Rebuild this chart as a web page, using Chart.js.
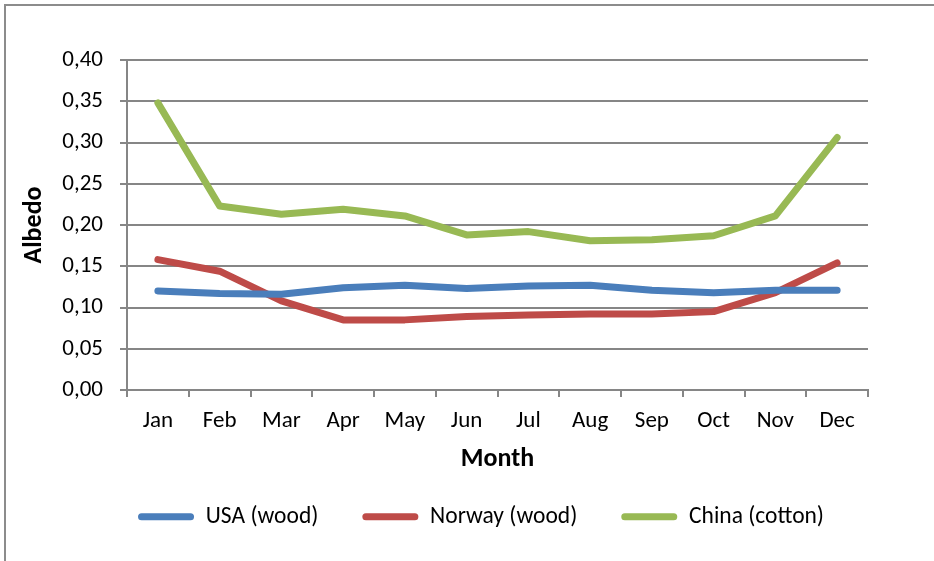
<!DOCTYPE html>
<html lang="en">
<head>
    <meta charset="UTF-8">
    <title>Albedo by month</title>
    <script src="https://cdn.jsdelivr.net/npm/chart.js"></script>
    <style>
        body { margin: 0; background: #fff; overflow: hidden; }
        #wrap { position: relative; width: 934px; height: 561px; }
        #frame { position: absolute; left: 4px; top: 4px; width: 1200px; height: 1200px; border: 2px solid #8c8c8c; }
        canvas { position: absolute; left: 0; top: 0; }
    </style>
</head>
<body>
    <div id="wrap">
        <div id="frame"></div>
        <canvas id="chart" width="934" height="561"></canvas>
    </div>

    <script>
        const months = ['Jan', 'Feb', 'Mar', 'Apr', 'May', 'Jun', 'Jul', 'Aug', 'Sep', 'Oct', 'Nov', 'Dec'];
        const usaWood = [0.120, 0.117, 0.116, 0.124, 0.127, 0.123, 0.126, 0.127, 0.121, 0.118, 0.121, 0.121];
        const norwayWood = [0.158, 0.144, 0.108, 0.085, 0.085, 0.089, 0.091, 0.092, 0.092, 0.095, 0.118, 0.154];
        const chinaCotton = [0.348, 0.223, 0.213, 0.219, 0.211, 0.188, 0.192, 0.181, 0.182, 0.187, 0.211, 0.306];

        const font = 'Carlito, Lato, sans-serif';
        const gridGray = '#868686';

        function series(label, data, color) {
            return { label: label, data: data, borderColor: color, backgroundColor: color,
                     borderWidth: 7, pointRadius: 0, tension: 0, borderCapStyle: 'round', borderJoinStyle: 'round' };
        }

        new Chart(document.getElementById('chart').getContext('2d'), {
            type: 'line',
            data: {
                labels: months,
                datasets: [
                    series('USA (wood)', usaWood, '#4a7ebb'),
                    series('Norway (wood)', norwayWood, '#be4b48'),
                    series('China (cotton)', chinaCotton, '#98b954')
                ]
            },
            options: {
                responsive: false,
                animation: false,
                layout: { padding: { top: 60, right: 66, left: 19, bottom: 22.5 } },
                plugins: {
                    tooltip: { enabled: false },
                    legend: {
                        position: 'bottom',
                        align: 'end',
                        labels: {
                            color: '#000',
                            font: { family: font, size: 23.5 },
                            boxWidth: 56, boxHeight: 7, padding: 44,
                            useBorderRadius: true, borderRadius: 3.5,
                            generateLabels: chart => Chart.defaults.plugins.legend.labels.generateLabels(chart)
                                .map(l => Object.assign(l, { lineWidth: 0 }))
                        }
                    }
                },
                scales: {
                    x: {
                        offset: true,
                        afterFit: s => { s.height = 71; },
                        grid: { display: true, drawOnChartArea: false, drawTicks: true, tickLength: 7, offset: true, color: gridGray, lineWidth: 2 },
                        border: { color: gridGray, width: 2 },
                        ticks: { color: '#000', font: { family: font, size: 23 }, padding: 10, maxRotation: 0 },
                        title: { display: true, text: 'Month', color: '#000', font: { family: font, size: 26, weight: 'bold' }, padding: { top: 0, bottom: -14 } }
                    },
                    y: {
                        min: 0, max: 0.4,
                        afterFit: s => { s.width = 108; },
                        grid: { color: gridGray, lineWidth: 2, tickLength: 7 },
                        border: { color: gridGray, width: 2 },
                        ticks: {
                            stepSize: 0.05, color: '#000', padding: 17,
                            font: { family: font, size: 23 },
                            callback: v => v.toFixed(2).replace('.', ',')
                        },
                        title: { display: true, text: 'Albedo', color: '#000', font: { family: font, size: 26, weight: 'bold' }, padding: 0 }
                    }
                }
            }
        });
    </script>
</body>
</html>
